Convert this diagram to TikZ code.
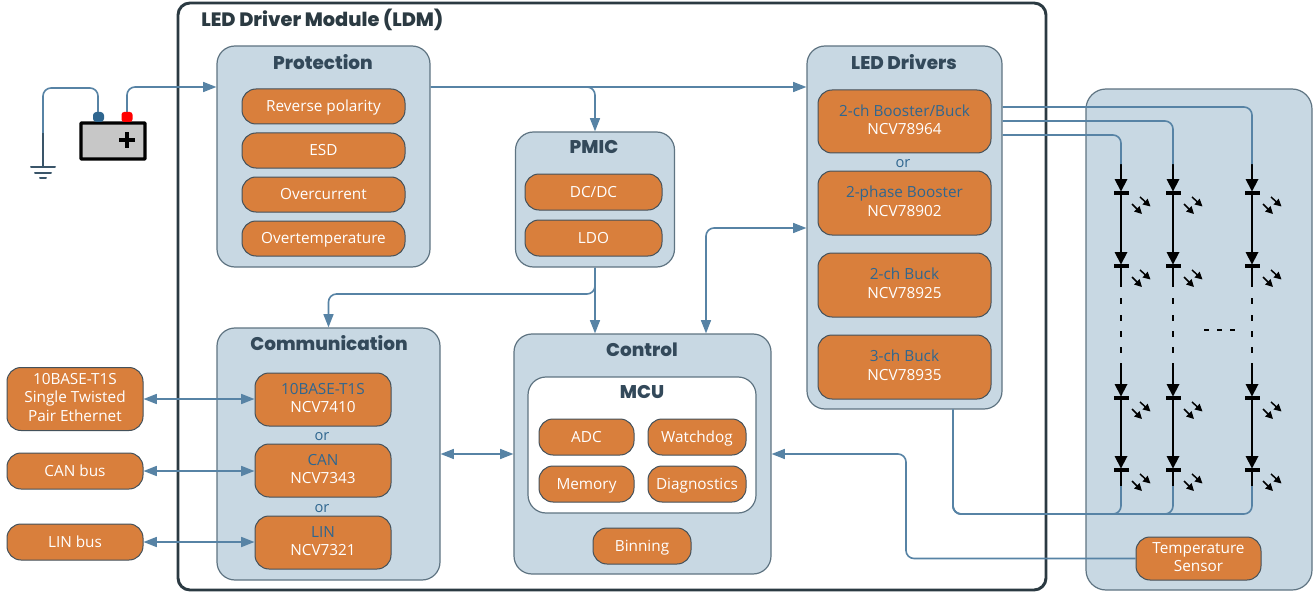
\documentclass[tikz,border=0pt]{standalone}
\usepackage{fontspec}
\setmainfont{Open Sans}
\newfontfamily\headfont{Poppins}[BoldFont={Poppins ExtraBold}]
\usetikzlibrary{arrows.meta,calc}
\definecolor{panelc}{HTML}{C8D8E3}
\definecolor{orangec}{HTML}{D97F3C}
\definecolor{edgec}{HTML}{5F7482}
\definecolor{headc}{HTML}{33495A}
\definecolor{linec}{HTML}{5783A5}
\definecolor{bluet}{HTML}{2F668F}
\definecolor{framec}{HTML}{2B3A42}
\newcommand{\cstrut}{\rule[-2.65pt]{0pt}{13.5pt}}
\tikzset{
 x=0.75pt,y=-0.75pt,
 panelbox/.style={draw=edgec,fill=panelc,line width=0.9pt,rounded corners=13.5pt,inner sep=0pt},
 chip/.style={draw=edgec!70!black,fill=orangec,line width=0.75pt,rounded corners=10.5pt,inner sep=0pt,text=white,align=center,font=\fontsize{11.5}{13.8}\selectfont,execute at begin node=\cstrut,execute at end node=\cstrut},
 headtxt/.style={text=headc,font=\fontsize{13.8}{15}\bfseries\headfont,inner sep=0pt},
 ortxt/.style={text=bluet,font=\fontsize{11}{13}\selectfont,inner sep=0pt},
 wire/.style={draw=linec,line width=1.2pt,rounded corners=6pt},
 arr/.style={wire,-{Triangle[length=10pt,width=7.5pt]}},
 darr/.style={wire,{Triangle[length=10pt,width=7.5pt]}-{Triangle[length=10pt,width=7.5pt]}},
 ledline/.style={draw=black,line width=1.2pt},
 ledarrow/.style={draw=black,line width=1.1pt,-{Triangle[length=5.5pt,width=5.5pt]}},
}
\newcommand{\bx}[7][]{\node[#2,#1,minimum width={(#5-#3)*0.75pt},minimum height={(#6-#4)*0.75pt}] at ({(#3+#5)/2},{(#4+#6)/2}) #7;}
% \ledd{name}{x}{triangle top y}: diode with two rays
\newcommand{\ledd}[3]{%
 \coordinate (#1t) at (#2,#3);
 \coordinate (#1b) at (#2,#3+14);
 \fill[black] (#2-6.5,#3) -- (#2+6.5,#3) -- (#2,#3+12.5) -- cycle;
 \fill[black] (#2-7.5,#3+12) rectangle (#2+7.5,#3+15.7);
 \draw[ledarrow] (#2+19,#3+18) -- (#2+29.5,#3+27.5);
 \draw[ledarrow] (#2+11,#3+25) -- (#2+21,#3+35);
}
\begin{document}
\begin{tikzpicture}
\useasboundingbox (0,0) rectangle (1315,592);
\fill[white] (0,0) rectangle (1315,592);
% LED panel and LDM frame
\bx[name=panel,rounded corners=15pt]{panelbox}{1086}{89}{1312}{590}{{}}
\bx[name=ldm,draw=framec,line width=2.2pt,fill=white,rounded corners=9pt]{panelbox}{178}{3}{1046}{590}{{}}
\node[headtxt,text=framec,anchor=west,font=\fontsize{14.5}{16}\bfseries\headfont] (ldmt) at (201,20) {LED Driver Module (LDM)};
% Protection
\bx[name=prot]{panelbox}{217}{46}{430}{267}{{}}
\node[headtxt] (protT) at (323,62) {Protection};
\bx[name=p1]{chip}{242}{89}{405}{124}{{Reverse polarity}}
\bx[name=p2]{chip}{242}{133}{405}{168}{{ESD}}
\bx[name=p3]{chip}{242}{177}{405}{212}{{Overcurrent}}
\bx[name=p4]{chip}{242}{221}{405}{256}{{Overtemperature}}
% PMIC
\bx[name=pmic]{panelbox}{515.5}{132}{674.5}{267}{{}}
\node[headtxt] (pmicT) at (594,147) {PMIC};
\bx[name=pm1]{chip}{525}{174}{662}{210}{{DC/DC}}
\bx[name=pm2]{chip}{525}{220}{662}{256}{{LDO}}
% LED drivers
\bx[name=drv]{panelbox}{807}{46}{1002}{409}{{}}
\node[headtxt] (drvT) at (904,62) {LED Drivers};
\bx[name=d1]{chip}{818}{90}{991}{153}{{\textcolor{bluet}{2-ch Booster/Buck}\\NCV78964}}
\node[ortxt] (or1) at (903,163.5) {or};
\bx[name=d2]{chip}{818}{171}{991}{235}{{\textcolor{bluet}{2-phase Booster}\\NCV78902}}
\bx[name=d3]{chip}{818}{253}{991}{317}{{\textcolor{bluet}{2-ch Buck}\\NCV78925}}
\bx[name=d4]{chip}{818}{335}{991}{399}{{\textcolor{bluet}{3-ch Buck}\\NCV78935}}
% Communication
\bx[name=comm]{panelbox}{217}{328}{440}{580}{{}}
\node[headtxt] (commT) at (329,343) {Communication};
\bx[name=c1]{chip}{255}{373}{391}{426}{{\textcolor{bluet}{10BASE-T1S}\\NCV7410}}
\node[ortxt] (or2) at (322,436.5) {or};
\bx[name=c2]{chip}{255}{444}{391}{497}{{\textcolor{bluet}{CAN}\\NCV7343}}
\node[ortxt] (or3) at (322,508.5) {or};
\bx[name=c3]{chip}{255}{516}{391}{569}{{\textcolor{bluet}{LIN}\\NCV7321}}
% Control
\bx[name=ctl]{panelbox}{514}{334}{771}{574}{{}}
\node[headtxt] (ctlT) at (642,350) {Control};
\bx[name=mcu,fill=white]{panelbox}{528}{377}{756}{513}{{}}
\node[headtxt] (mcuT) at (642,392) {MCU};
\bx[name=m1]{chip}{539}{419}{634}{455}{{ADC}}
\bx[name=m2]{chip}{648}{419}{746}{455}{{Watchdog}}
\bx[name=m3]{chip}{539}{466}{634}{502}{{Memory}}
\bx[name=m4]{chip}{648}{466}{746}{502}{{Diagnostics}}
\bx[name=bin]{chip}{593}{528}{691}{564}{{Binning}}
% External
\bx[name=e1]{chip}{7}{367.5}{143}{430.5}{{10BASE-T1S\\Single Twisted\\Pair Ethernet}}
\bx[name=e2]{chip}{7}{453}{143}{489}{{CAN bus}}
\bx[name=e3]{chip}{7}{524}{143}{560}{{LIN bus}}
\bx[name=temp]{chip}{1136}{537}{1261}{580}{{Temperature\\Sensor}}
% Battery
\bx[name=bat,draw=black,fill=black!22,line width=2.4pt,rounded corners=0.5pt]{panelbox}{81}{123}{145}{159}{{}}
\node[fill=black,inner sep=0pt,minimum width=11.5pt,minimum height=2.6pt] (plusH) at (127,140) {};
\node[fill=black,inner sep=0pt,minimum width=2.6pt,minimum height=11.5pt] (plusV) at (127,140) {};
\coordinate (tneg) at (98,116);
\coordinate (tpos) at (127,116);
\coordinate (gndtop) at (43,133);
\coordinate (gndb) at (43,167);
% ground
\draw[headc!80!linec,line width=1.5pt] (gndtop) -- (gndb);
\draw[headc!80!linec,line width=1.5pt,line cap=round] (31,167) -- (55,167);
\draw[headc!80!linec,line width=1.5pt,line cap=round] (35,172.5) -- (51,172.5);
\draw[headc!80!linec,line width=1.5pt,line cap=round] (40,178) -- (46,178);
% wires
\coordinate (yp) at (0,87);
\draw[wire] (tneg) -- (98,88) -- (43,88) -- (gndtop);
\draw[arr] (tpos) |- (prot.west |- yp);
\fill[red,rounded corners=2pt] (121.5,112) rectangle (132.5,122);
\fill[bluet,rounded corners=2.5pt] (93,112) rectangle (104,122);
\draw[arr] (prot.east |- yp) -- (drv.west |- yp);
\draw[arr] (prot.east |- yp) -| (pmic.north);
\coordinate (yc) at (0,294);
\draw[arr] (pmic.south) -- (pmic.south |- ctl.north);
\draw[arr] (pmic.south) |- (yc -| comm.north) -- (comm.north);
\coordinate (xb) at (706,0);
\coordinate (yb) at (0,228);
\draw[darr] (xb |- ctl.north) |- (drv.west |- yb);
\coordinate (ym) at (0,454);
\draw[darr] (comm.east |- ym) -- (ctl.west |- ym);
\draw[darr] (e1.east) -- (c1.west |- e1.east);
\draw[darr] (e2.east) -- (c2.west |- e2.east);
\draw[darr] (e3.east) -- (c3.west |- e3.east);
% LEDs
\foreach \n/\xx in {A/1121,B/1173,C/1252}{
 \ledd{\n1}{\xx}{179}
 \ledd{\n2}{\xx}{252}
 \ledd{\n3}{\xx}{384}
 \ledd{\n4}{\xx}{456}
 \coordinate (\n top) at (\xx,164);
 \coordinate (\n end) at (\xx,486);
 \draw[ledline] (\n top) -- (\n1t);
 \draw[ledline] (\n1b) -- (\n2t);
 \draw[ledline] (\n2b) -- (\xx,287);
 \draw[ledline] (\xx,298) -- (\xx,304);
 \draw[ledline] (\xx,315) -- (\xx,321);
 \draw[ledline] (\xx,331) -- (\xx,337);
 \draw[ledline] (\xx,347) -- (\xx,353);
 \draw[ledline] (\xx,363) -- (\n3t);
 \draw[ledline] (\n3b) -- (\n4t);
 \draw[ledline] (\n4b) -- (\n end);
}
\draw[black,line width=0.8pt] (1204,330) -- (1209,330) (1217,330) -- (1222,330) (1230,330) -- (1235,330);
\coordinate (y1) at (0,107);
\coordinate (y2) at (0,121);
\coordinate (y3) at (0,135);
\coordinate (yl) at (0,514);
\coordinate (xl) at (953,0);
\draw[wire] (drv.east |- y1) -| (Ctop);
\draw[wire] (drv.east |- y2) -| (Btop);
\draw[wire] (drv.east |- y3) -| (Atop);
\draw[wire] (xl |- drv.south) |- (yl -| Aend) -- (Aend);
\draw[wire] (xl |- drv.south) |- (yl -| Bend) -- (Bend);
\draw[wire] (xl |- drv.south) |- (yl -| Cend) -- (Cend);
\coordinate (xt) at (906,0);
\draw[arr] (temp.west) -| (xt |- ym) -- (ctl.east |- ym);
\end{tikzpicture}
\end{document}
